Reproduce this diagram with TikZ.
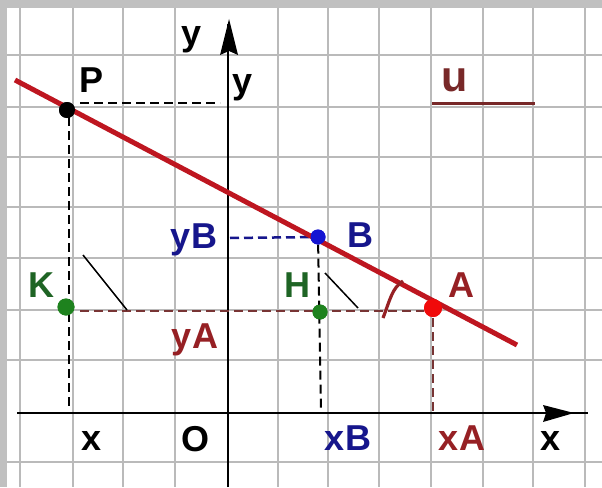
\documentclass[tikz,border=0pt]{standalone}
\usepackage{fontspec}
\setmainfont{Liberation Sans}
\definecolor{gridgray}{RGB}{186,186,186}
\definecolor{bordergray}{RGB}{192,192,192}
\definecolor{linered}{RGB}{190,22,32}
\definecolor{dkred}{RGB}{150,32,36}
\definecolor{brownred}{RGB}{120,52,52}
\definecolor{dkblue}{RGB}{22,22,140}
\definecolor{dotblue}{RGB}{20,20,210}
\definecolor{dkgreen}{RGB}{30,100,36}
\definecolor{dotgreen}{RGB}{30,130,30}
\definecolor{dotred}{RGB}{240,10,10}
\definecolor{ured}{RGB}{120,40,40}
\begin{document}
\begin{tikzpicture}[x=1pt,y=-1pt,
  gridline/.style={draw=gridgray,line width=1.8},
  axis/.style={draw=black,line width=2.4},
  lbl/.style={font=\fontsize{36}{36}\selectfont\bfseries,inner sep=0pt},
  dotnode/.style={circle,inner sep=0pt,minimum size=15},
  dsh/.style={line width=2.5,dash pattern=on 9pt off 5pt},
  slash/.style={draw=black,line width=1.5}]
\useasboundingbox (0,0) rectangle (602,487);
\fill[white] (0,0) rectangle (602,487);
\fill[bordergray] (0,0) rectangle (602,8);
\fill[bordergray] (0,0) rectangle (7,487);
% grid
\foreach \x in {20,73,123,175,278,328,379,431,483,533,585}
  \draw[gridline] (\x,8) -- (\x,487);
\foreach \y in {55,107,157,207,258,310,360,462}
  \draw[gridline] (7,\y) -- (602,\y);
% axes
\coordinate (xs) at (17,413);
\coordinate (xe) at (588,413);
\coordinate (ys) at (228,487);
\coordinate (ye) at (228,24);
\draw[axis] (xs) -- (xe);
\draw[axis] (ys) -- (ye);
\fill[black] (574,413) -- (543,405) -- (546,413) -- (543,422) -- cycle;
\fill[black] (229,19) -- (238,55) -- (229,51) -- (220,55) -- cycle;
% points
\node[dotnode,fill=black,minimum size=16] (P) at (67,110) {};
\node[dotnode,fill=dotblue] (B) at (318,237) {};
\node[dotnode,fill=dotgreen] (H) at (320,312) {};
\node[dotnode,fill=dotgreen,minimum size=17] (K) at (66,307) {};
\node[dotnode,fill=dotred,minimum size=18] (A) at (433,308) {};
% helper coordinates
\coordinate (Pr) at (80,103);
\coordinate (Py) at (220,103);
\coordinate (Px) at (69,410);
\coordinate (Pd) at (69,117);
\coordinate (By) at (230,238);
\coordinate (Bx) at (321,411);
\coordinate (Kr) at (80,311);
\coordinate (Al) at (424,311);
\coordinate (Ad) at (433,318);
\coordinate (Ax) at (433,411);
\coordinate (L1) at (15,80);
\coordinate (L2) at (517,345);
\coordinate (s1a) at (83,255);
\coordinate (s1b) at (127,310);
\coordinate (s2a) at (325,273);
\coordinate (s2b) at (358,308);
\coordinate (g1) at (383,318);
\coordinate (g2) at (403,281);
% dashed lines
\draw[dsh,black] (Pr) -- (Py);
\draw[dsh,black] (Pd) -- (Px);
\draw[dsh,dkblue] (By) -- (B);
\draw[dsh,black,line width=2] (B) -- (Bx);
\draw[dsh,brownred] (Kr) -- (Al);
\draw[dsh,brownred,line width=2.2] (Ad) -- (Ax);
% slashes
\draw[slash] (s1a) -- (s1b);
\draw[slash] (s2a) -- (s2b);
% red line
\draw[linered,line width=5] (L1) -- (L2);
% angle mark
\draw[dkred,line width=3.2] (g1) .. controls (390,300) and (392,288) .. (g2);
% redraw dots on top
\node[dotnode,fill=black,minimum size=16] at (P) {};
\node[dotnode,fill=dotblue] at (B) {};
\node[dotnode,fill=dotgreen] at (H) {};
\node[dotnode,fill=dotgreen,minimum size=17] at (K) {};
\node[dotnode,fill=dotred,minimum size=18] at (A) {};
% legend
\coordinate (u1) at (432,103);
\coordinate (u2) at (535,103);
\draw[ured,line width=3] (u1) -- (u2);
\node[lbl,text=ured,font=\fontsize{43}{43}\selectfont\bfseries] (ulbl) at (455,80) {u};
% labels
\node[lbl] (ytop) at (192,40) {y};
\node[lbl] (yright) at (243,88) {y};
\node[lbl] (Plbl) at (92,80) {P};
\node[lbl,text=dkblue] (Blbl) at (360,235) {B};
\node[lbl,text=dkblue] (yBlbl) at (194,240) {yB};
\node[lbl,text=dkgreen] (Hlbl) at (297,285) {H};
\node[lbl,text=dkgreen] (Klbl) at (41,285) {K};
\node[lbl,text=dkred] (Albl) at (461,285) {A};
\node[lbl,text=dkred] (yAlbl) at (195,340) {yA};
\node[lbl] (xlbl) at (92,441) {x};
\node[lbl] (Olbl) at (195,439) {O};
\node[lbl,text=dkblue] (xBlbl) at (348,438) {xB};
\node[lbl,text=dkred] (xAlbl) at (462,438) {xA};
\node[lbl] (xaxlbl) at (551,441) {x};
\end{tikzpicture}
\end{document}
